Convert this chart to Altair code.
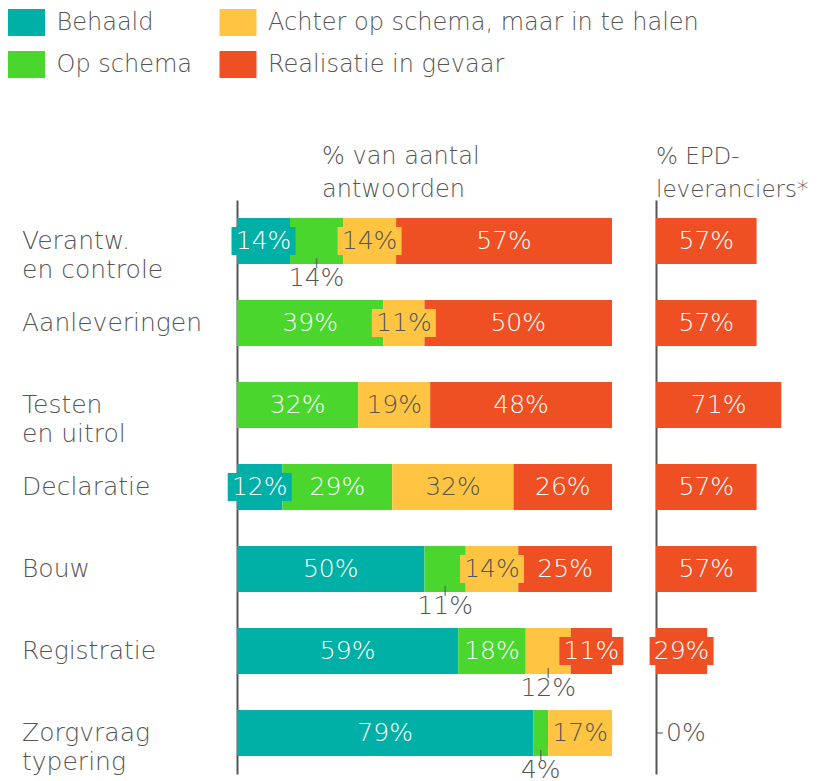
import altair as alt
import pandas as pd

# ---------------- data ----------------
categories = ["Verantw. en controle", "Aanleveringen", "Testen en uitrol", "Declaratie",
              "Bouw", "Registratie", "Zorgvraag typering"]
category_labels = ["Verantw.\nen controle", "Aanleveringen", "Testen\nen uitrol", "Declaratie",
                   "Bouw", "Registratie", "Zorgvraag\ntypering"]
statuses = ["Behaald", "Op schema", "Achter op schema, maar in te halen", "Realisatie in gevaar"]
colors = ["#00B0A6", "#4AD62C", "#FFC542", "#EE4F23"]
text_colors = ["#FFFFFF", "#FFFFFF", "#555555", "#FFFFFF"]

behaald = [14, 0, 0, 12, 50, 59, 79]
op_schema = [14, 39, 32, 29, 11, 18, 4]
achter = [14, 11, 19, 32, 14, 12, 17]
gevaar = [57, 50, 48, 26, 25, 11, 0]
epd = [57, 57, 71, 57, 57, 29, 0]

place_behaald = ["in", "in", "in", "in", "in", "in", "in"]
place_op_schema = ["below", "in", "in", "in", "below", "in", "below"]
place_achter = ["in", "in", "in", "in", "in", "below", "in"]
place_gevaar = ["in", "in", "in", "in", "in", "in", "in"]

header_left = "% van aantal\nantwoorden"
header_right = "% EPD-\nleveranciers*"

legend_col = [0, 0, 1, 1]
legend_row = [0, 1, 0, 1]

# ---------------- tables ----------------
series = [behaald, op_schema, achter, gevaar]
places = [place_behaald, place_op_schema, place_achter, place_gevaar]
rows = []
for i, cat in enumerate(categories):
    total = sum(s[i] for s in series)
    start = 0.0
    for k, st in enumerate(statuses):
        v = series[k][i]
        share = v / total
        rows.append(dict(cat=cat, status=st, value=v, start=start, end=start + share,
                         mid=start + share / 2, label=f"{v}%", place=places[k][i],
                         tcol=text_colors[k]))
        start += share
seg = pd.DataFrame(rows)
seg = seg[seg["value"] > 0]

cat_df = pd.DataFrame(dict(cat=categories, catlabel=category_labels))
epd_df = pd.DataFrame(dict(cat=categories, v=epd, mid=[x / 2 for x in epd],
                           label=[f"{x}%" for x in epd]))
legend_df = pd.DataFrame(dict(status=statuses, col=legend_col, row=legend_row))

FONT = "DejaVu Sans"
FW = 200
GRAY = "#555555"
BOX = "M-1,-0.4375H1V0.4375H-1Z"
LEGBOX = "M-1,-0.73H1V0.73H-1Z"

color_scale = alt.Scale(domain=statuses, range=colors)
y_scale = alt.Scale(domain=categories, paddingInner=0.44, paddingOuter=0.22)
y_axis = alt.Axis(labels=False, ticks=False, domain=True, domainColor=GRAY,
                  domainWidth=2, title=None, grid=False)
Y = alt.Y("cat:N", sort=categories, scale=y_scale, axis=y_axis)
x_left = alt.Scale(domain=[0, 1], nice=False, zero=False)

# ---------------- left panel ----------------
base = alt.Chart(seg)
bars = base.mark_bar().encode(
    x=alt.X("start:Q", scale=x_left, axis=None), x2="end:Q", y=Y,
    color=alt.Color("status:N", scale=color_scale, legend=None))
inside = base.transform_filter(alt.datum.place == "in")
boxes = inside.mark_point(shape=BOX, size=4096, filled=True, opacity=1, strokeWidth=0).encode(
    x=alt.X("mid:Q", scale=x_left, axis=None), y=Y,
    color=alt.Color("status:N", scale=color_scale, legend=None))
texts = inside.mark_text(font=FONT, fontWeight=FW, fontSize=25, baseline="middle").encode(
    x=alt.X("mid:Q", scale=x_left, axis=None), y=Y, text="label:N",
    color=alt.Color("tcol:N", scale=None))
below = base.transform_filter(alt.datum.place == "below")
ticks = below.mark_tick(orient="vertical", size=10, thickness=1.5, yOffset=22, color=GRAY).encode(
    x=alt.X("mid:Q", scale=x_left, axis=None), y=Y)
below_txt = below.mark_text(font=FONT, fontWeight=FW, fontSize=25, baseline="middle",
                            dy=37, color=GRAY).encode(
    x=alt.X("mid:Q", scale=x_left, axis=None), y=Y, text="label:N")
cat_txt = alt.Chart(cat_df).mark_text(font=FONT, fontWeight=FW, fontSize=25, align="left",
                                      baseline="middle", lineBreak="\n", lineHeight=29,
                                      color=GRAY).encode(
    x=alt.value(-215), y=Y, text="catlabel:N")
head_l = alt.Chart(pd.DataFrame(dict(t=[header_left]))).mark_text(
    font=FONT, fontWeight=FW, fontSize=24, align="left", baseline="middle",
    lineBreak="\n", lineHeight=33, color=GRAY).encode(
    x=alt.value(85), y=alt.value(-43), text="t:N")

main_left = alt.layer(bars, boxes, texts, ticks, below_txt, cat_txt, head_l)

lx = alt.X("col:Q", scale=alt.Scale(domain=[0, 1], range=[-210.5, 1], nice=False, zero=False), axis=None)
ly = alt.Y("row:Q", scale=alt.Scale(domain=[0, 1], range=[-177.5, -135.5], nice=False, zero=False), axis=None)
leg_base = alt.Chart(legend_df)
leg_sq = leg_base.mark_point(shape=LEGBOX, size=1369, filled=True, opacity=1, strokeWidth=0).encode(
    x=lx, y=ly, color=alt.Color("status:N", scale=color_scale, legend=None))
leg_tx = leg_base.mark_text(font=FONT, fontWeight=FW, fontSize=24, align="left",
                            baseline="middle", dx=30, color=GRAY).encode(
    x=lx, y=ly, text="status:N")
legend = alt.layer(leg_sq, leg_tx)

left = alt.layer(main_left, legend).resolve_scale(
    x="independent", y="independent").properties(width=375, height=574)

# ---------------- right panel ----------------
x_right = alt.Scale(domain=[0, 85], nice=False)
rbase = alt.Chart(epd_df)
rpos = rbase.transform_filter(alt.datum.v > 0)
rbars = rpos.mark_bar(color=colors[3]).encode(
    x=alt.X("v:Q", scale=x_right, axis=None), y=Y)
rboxes = rpos.mark_point(shape=BOX, size=4096, filled=True, opacity=1, strokeWidth=0,
                         color=colors[3]).encode(
    x=alt.X("mid:Q", scale=x_right, axis=None), y=Y)
rtext = rpos.mark_text(font=FONT, fontWeight=FW, fontSize=25, baseline="middle",
                       color="#FFFFFF").encode(
    x=alt.X("mid:Q", scale=x_right, axis=None), y=Y, text="label:N")
rzero = rbase.transform_filter(alt.datum.v == 0)
rzero_tick = rzero.mark_tick(orient="horizontal", size=7, thickness=1.5, xOffset=3.5,
                             color=GRAY).encode(
    x=alt.X("v:Q", scale=x_right, axis=None), y=Y)
rzero_txt = rzero.mark_text(font=FONT, fontWeight=FW, fontSize=25, baseline="middle",
                            align="left", dx=10, color=GRAY).encode(
    x=alt.X("v:Q", scale=x_right, axis=None), y=Y, text="label:N")
head_r = alt.Chart(pd.DataFrame(dict(t=[header_right]))).mark_text(
    font=FONT, fontWeight=FW, fontSize=23, align="left", baseline="middle",
    lineBreak="\n", lineHeight=33, color=GRAY).encode(
    x=alt.value(0), y=alt.value(-43), text="t:N")

right = alt.layer(rbars, rboxes, rtext, rzero_tick, rzero_txt, head_r).properties(
    width=150, height=574)

chart = alt.hconcat(left, right, spacing=44, bounds="flush").properties(
    padding=0).configure_view(stroke=None)

chart.save("out.html", embed_options={"renderer": "svg", "actions": False})
